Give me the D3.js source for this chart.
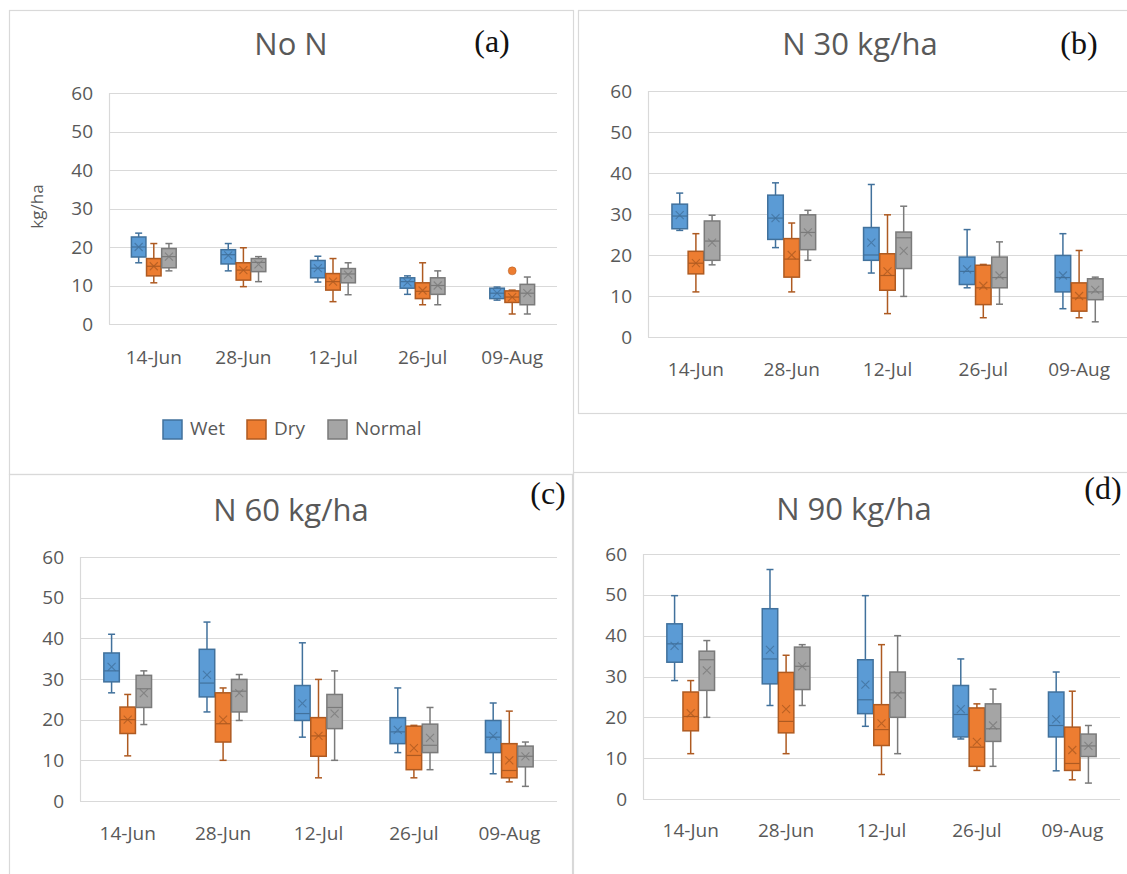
<!DOCTYPE html>
<html>
<head>
<meta charset="utf-8">
<script src="https://cdn.jsdelivr.net/npm/d3@7"></script>
<style>
  html, body { margin: 0; padding: 0; background: #fff; }
  svg { display: block; }
  text { font-family: "Open Sans", "Liberation Sans", sans-serif; }
</style>
</head>
<body>
<svg id="chart" width="1127" height="874"></svg>
<script>
// ---------- DATA ----------
const categories = ["14-Jun", "28-Jun", "12-Jul", "26-Jul", "09-Aug"];
const seriesNames = ["Wet", "Dry", "Normal"];
const yTicks = [0, 10, 20, 30, 40, 50, 60];
const panelTitles = ["No N", "N 30 kg/ha", "N 60 kg/ha", "N 90 kg/ha"];
const panelLetters = ["(a)", "(b)", "(c)", "(d)"];

// each entry: [min, q1, median, q3, max, mean]
const noN_wet    = [[15.9,17.4,20,22.6,23.6,20],[13.8,15.6,18,19.3,20.9,17.8],[10.9,12,14.5,16.5,17.6,14.5],[7.7,9.3,11,12,12.5,10.8],[6.2,6.6,8,9.3,9.6,8]];
const noN_dry    = [[10.7,12.5,15,17,20.9,15],[9.7,11.4,14,15.9,19.8,14],[5.8,8.8,11,13.1,17,11],[5,6.6,8.5,10.7,15.9,8.7],[2.6,5.6,7,8.6,8.8,7]];
const noN_normal = [[13.8,14.6,17.5,19.6,20.9,17.5],[11,13.6,16,17,17.5,15.5],[7.6,10.7,13,14.4,15.9,12.8],[5,7.7,10,12,13.8,10],[2.6,5,8,10.3,12.2,8]];
const noN_outliers = [{cat: 4, series: 1, value: 13.8}];

const n30_wet    = [[26,26.4,29.5,32.4,35.1,29.7],[21.8,23.8,29,34.6,37.6,29],[15.6,18.7,20,26.7,37.2,23],[12,12.8,16,19.5,26.2,16.5],[6.9,11,14.5,19.9,25.2,15]];
const n30_dry    = [[11,15.4,18,20.9,25.2,18],[11,14.6,19,24,27.8,20],[5.7,11.4,15,20.3,29.8,16],[4.7,7.9,12,17.5,17.7,12.5],[4.7,6.3,9.5,13.2,21.1,10]];
const n30_normal = [[17.6,18.7,23.4,28.3,29.7,23],[18.7,21.3,25.5,29.8,30.9,25.5],[9.9,16.7,24.2,25.6,31.9,21],[8,12,14.5,19.5,23.2,15],[3.7,9.1,11,14.2,14.6,11.5]];

const n60_wet    = [[26.6,29.3,32,36.4,41,33],[21.9,25.6,29,37.3,44,31],[15.7,19.8,21.5,28.4,38.9,24],[11.9,14.1,17,20.5,27.8,17.5],[6.7,11.9,15.7,19.8,24.1,16]];
const n60_dry    = [[11.1,16.6,20,23.1,26.2,20],[10,14.5,19,26.6,27.8,20],[5.7,11,16,20.5,29.9,16],[5.7,7.7,11.2,18.4,18.6,13],[4.7,5.7,7.5,14.1,22.1,10]];
const n60_normal = [[18.8,23,27.6,30.9,32,26.5],[19.8,21.9,27,29.9,31.1,26.5],[10,17.8,23,26.2,32,21.5],[7.7,11.9,13.7,18.9,23,15.5],[3.6,8.4,11,13.5,14.5,11]];

const n90_wet    = [[29,33.5,38,42.9,49.8,37.5],[22.9,28.2,34.3,46.6,56.2,36.5],[17.8,20.9,24.3,34.1,49.8,28],[14.7,15.2,20.7,27.8,34.3,22],[6.9,15.2,18,26.2,31.1,19.5]];
const n90_dry    = [[11.1,16.7,20.2,26.2,29,21],[11.1,16.2,19,31,35.2,22],[6,13.1,17,23.1,37.8,18.5],[7,8,12.7,22.3,23.3,14],[4.7,7,8.7,17.6,26.4,12]];
const n90_normal = [[20,26.6,34.1,36.2,38.8,31.5],[22.9,26.8,32.5,37.2,37.8,32.5],[11.1,20,26,31.1,40,25.5],[8,14.1,17.2,23.3,26.9,18],[3.9,10.4,13,15.9,18,13]];

// ---------- STYLE / LAYOUT ----------
const fills   = ["#5B9BD5", "#ED7D31", "#A5A5A5"];
const strokes = ["#41719C", "#AE5A21", "#7A7A7A"];

const panels = [
  { data: [noN_wet, noN_dry, noN_normal], outliers: noN_outliers, border: [9, 10, 573, 474],
    px: [109, 557], py: [324, 93], title: [291, 47], letter: [492, 45], xLabY: 357, yTitle: true, legend: true },
  { data: [n30_wet, n30_dry, n30_normal], outliers: [], border: [578, 10, 1150, 413],
    px: [648, 1127], py: [337, 91], title: [860, 47], letter: [1079, 47], xLabY: 369 },
  { data: [n60_wet, n60_dry, n60_normal], outliers: [], border: [9, 474, 572, 900],
    px: [80, 557], py: [801, 557], title: [291, 513], letter: [548, 497], xLabY: 833 },
  { data: [n90_wet, n90_dry, n90_normal], outliers: [], border: [573, 472, 1150, 900],
    px: [643, 1120], py: [799, 554], title: [854, 512], letter: [1103, 492], xLabY: 830 }
];

const svg = d3.select("#chart");
const textColor = "#595959";
const tickFont = "19px";

panels.forEach((p, pi) => {
  const g = svg.append("g");
  const [bx0, by0, bx1, by1] = p.border;
  g.append("rect").attr("x", bx0 + 0.5).attr("y", by0 + 0.5)
    .attr("width", bx1 - bx0).attr("height", by1 - by0)
    .attr("fill", "none").attr("stroke", "#d9d9d9").attr("stroke-width", 1.2);

  const x = d3.scaleBand().domain(categories).range(p.px).paddingInner(0).paddingOuter(0);
  const y = d3.scaleLinear().domain([0, 60]).range(p.py);
  const groupW = x.bandwidth() * 0.5;
  const xs = d3.scaleBand().domain(seriesNames).range([-groupW / 2, groupW / 2]).paddingInner(0.04);

  // gridlines
  g.append("g").selectAll("line").data(yTicks).join("line")
    .attr("x1", p.px[0]).attr("x2", p.px[1])
    .attr("y1", d => Math.round(y(d)) + 0.5).attr("y2", d => Math.round(y(d)) + 0.5)
    .attr("stroke", "#d9d9d9").attr("stroke-width", 1.2);

  // y axis
  const yAxis = d3.axisLeft(y).tickValues(yTicks).tickSize(0).tickPadding(16);
  const ya = g.append("g").attr("transform", `translate(${p.px[0]},0)`).call(yAxis);
  ya.select(".domain").remove();
  ya.selectAll("text").attr("fill", textColor).style("font-size", tickFont)
    .style("font-family", '"Open Sans", sans-serif');

  // x axis labels
  const xAxis = d3.axisBottom(x).tickSize(0).tickPadding(0);
  const xa = g.append("g").attr("transform", `translate(0,${p.xLabY})`).call(xAxis);
  xa.select(".domain").remove();
  xa.selectAll("text").attr("fill", textColor).attr("dy", "0.35em").attr("y", 0)
    .style("font-size", tickFont).style("font-family", '"Open Sans", sans-serif');

  // vertical left axis line
  g.append("line").attr("x1", p.px[0] + 0.5).attr("x2", p.px[0] + 0.5)
    .attr("y1", p.py[1]).attr("y2", p.py[0]).attr("stroke", "#d9d9d9").attr("stroke-width", 1.2);

  // boxes
  p.data.forEach((series, si) => {
    const sg = g.append("g");
    const items = series.map((v, ci) => ({ cat: categories[ci], min: v[0], q1: v[1], med: v[2], q3: v[3], max: v[4], mean: v[5] }));
    const bw = xs.bandwidth();
    const cx = d => x(d.cat) + x.bandwidth() / 2 + xs(seriesNames[si]) + bw / 2;
    const capW = 3.5;
    sg.selectAll(".wt").data(items).join("line")
      .attr("x1", cx).attr("x2", cx).attr("y1", d => y(d.max)).attr("y2", d => y(d.q3))
      .attr("stroke", strokes[si]).attr("stroke-width", 1.5);
    sg.selectAll(".wb").data(items).join("line")
      .attr("x1", cx).attr("x2", cx).attr("y1", d => y(d.q1)).attr("y2", d => y(d.min))
      .attr("stroke", strokes[si]).attr("stroke-width", 1.5);
    sg.selectAll(".ct").data(items).join("line")
      .attr("x1", d => cx(d) - capW).attr("x2", d => cx(d) + capW)
      .attr("y1", d => y(d.max)).attr("y2", d => y(d.max))
      .attr("stroke", strokes[si]).attr("stroke-width", 1.5);
    sg.selectAll(".cb").data(items).join("line")
      .attr("x1", d => cx(d) - capW).attr("x2", d => cx(d) + capW)
      .attr("y1", d => y(d.min)).attr("y2", d => y(d.min))
      .attr("stroke", strokes[si]).attr("stroke-width", 1.5);
    sg.selectAll(".box").data(items).join("rect")
      .attr("x", d => cx(d) - bw / 2).attr("width", bw)
      .attr("y", d => y(d.q3)).attr("height", d => y(d.q1) - y(d.q3))
      .attr("fill", fills[si]).attr("stroke", strokes[si]).attr("stroke-width", 1.5);
    sg.selectAll(".med").data(items).join("line")
      .attr("x1", d => cx(d) - bw / 2).attr("x2", d => cx(d) + bw / 2)
      .attr("y1", d => y(d.med)).attr("y2", d => y(d.med))
      .attr("stroke", strokes[si]).attr("stroke-width", 1.2);
    const m = 4;
    sg.selectAll(".mean").data(items).join("path")
      .attr("d", d => { const X = cx(d), Y = y(d.mean); return `M${X - m},${Y - m}L${X + m},${Y + m}M${X - m},${Y + m}L${X + m},${Y - m}`; })
      .attr("stroke", strokes[si]).attr("stroke-width", 1.1).attr("fill", "none").attr("opacity", 0.8);
  });

  // outliers
  g.selectAll(".out").data(p.outliers).join("circle")
    .attr("cx", d => x(categories[d.cat]) + x.bandwidth() / 2 + xs(seriesNames[d.series]) + xs.bandwidth() / 2)
    .attr("cy", d => y(d.value)).attr("r", 4)
    .attr("fill", d => fills[d.series]).attr("stroke", d => strokes[d.series]).attr("stroke-width", 0.5);

  // title
  g.append("text").attr("x", p.title[0]).attr("y", p.title[1]).attr("text-anchor", "middle")
    .attr("dominant-baseline", "middle").attr("fill", textColor)
    .style("font-size", "31px").style("font-family", '"Open Sans", sans-serif').text(panelTitles[pi]);
  // letter
  g.append("text").attr("x", p.letter[0]).attr("y", p.letter[1]).attr("text-anchor", "middle")
    .attr("dominant-baseline", "middle").attr("fill", "#111")
    .style("font-size", "32px").style("font-family", '"Liberation Serif", "DejaVu Serif", serif').text(panelLetters[pi]);

  if (p.yTitle) {
    g.append("text").attr("transform", `translate(38,${(p.py[0] + p.py[1]) / 2 - 2}) rotate(-90)`)
      .attr("text-anchor", "middle").attr("dominant-baseline", "middle").attr("fill", textColor)
      .style("font-size", "17px").text("kg/ha");
  }

  if (p.legend) {
    const legX = [163, 247, 328];
    const lg = g.append("g");
    seriesNames.forEach((s, si) => {
      lg.append("rect").attr("x", legX[si]).attr("y", 420).attr("width", 19).attr("height", 19)
        .attr("fill", fills[si]).attr("stroke", strokes[si]).attr("stroke-width", 1.5);
      lg.append("text").attr("x", legX[si] + 27).attr("y", 430).attr("dominant-baseline", "middle")
        .attr("fill", textColor).style("font-size", tickFont).text(s);
    });
  }
});
</script>
</body>
</html>
